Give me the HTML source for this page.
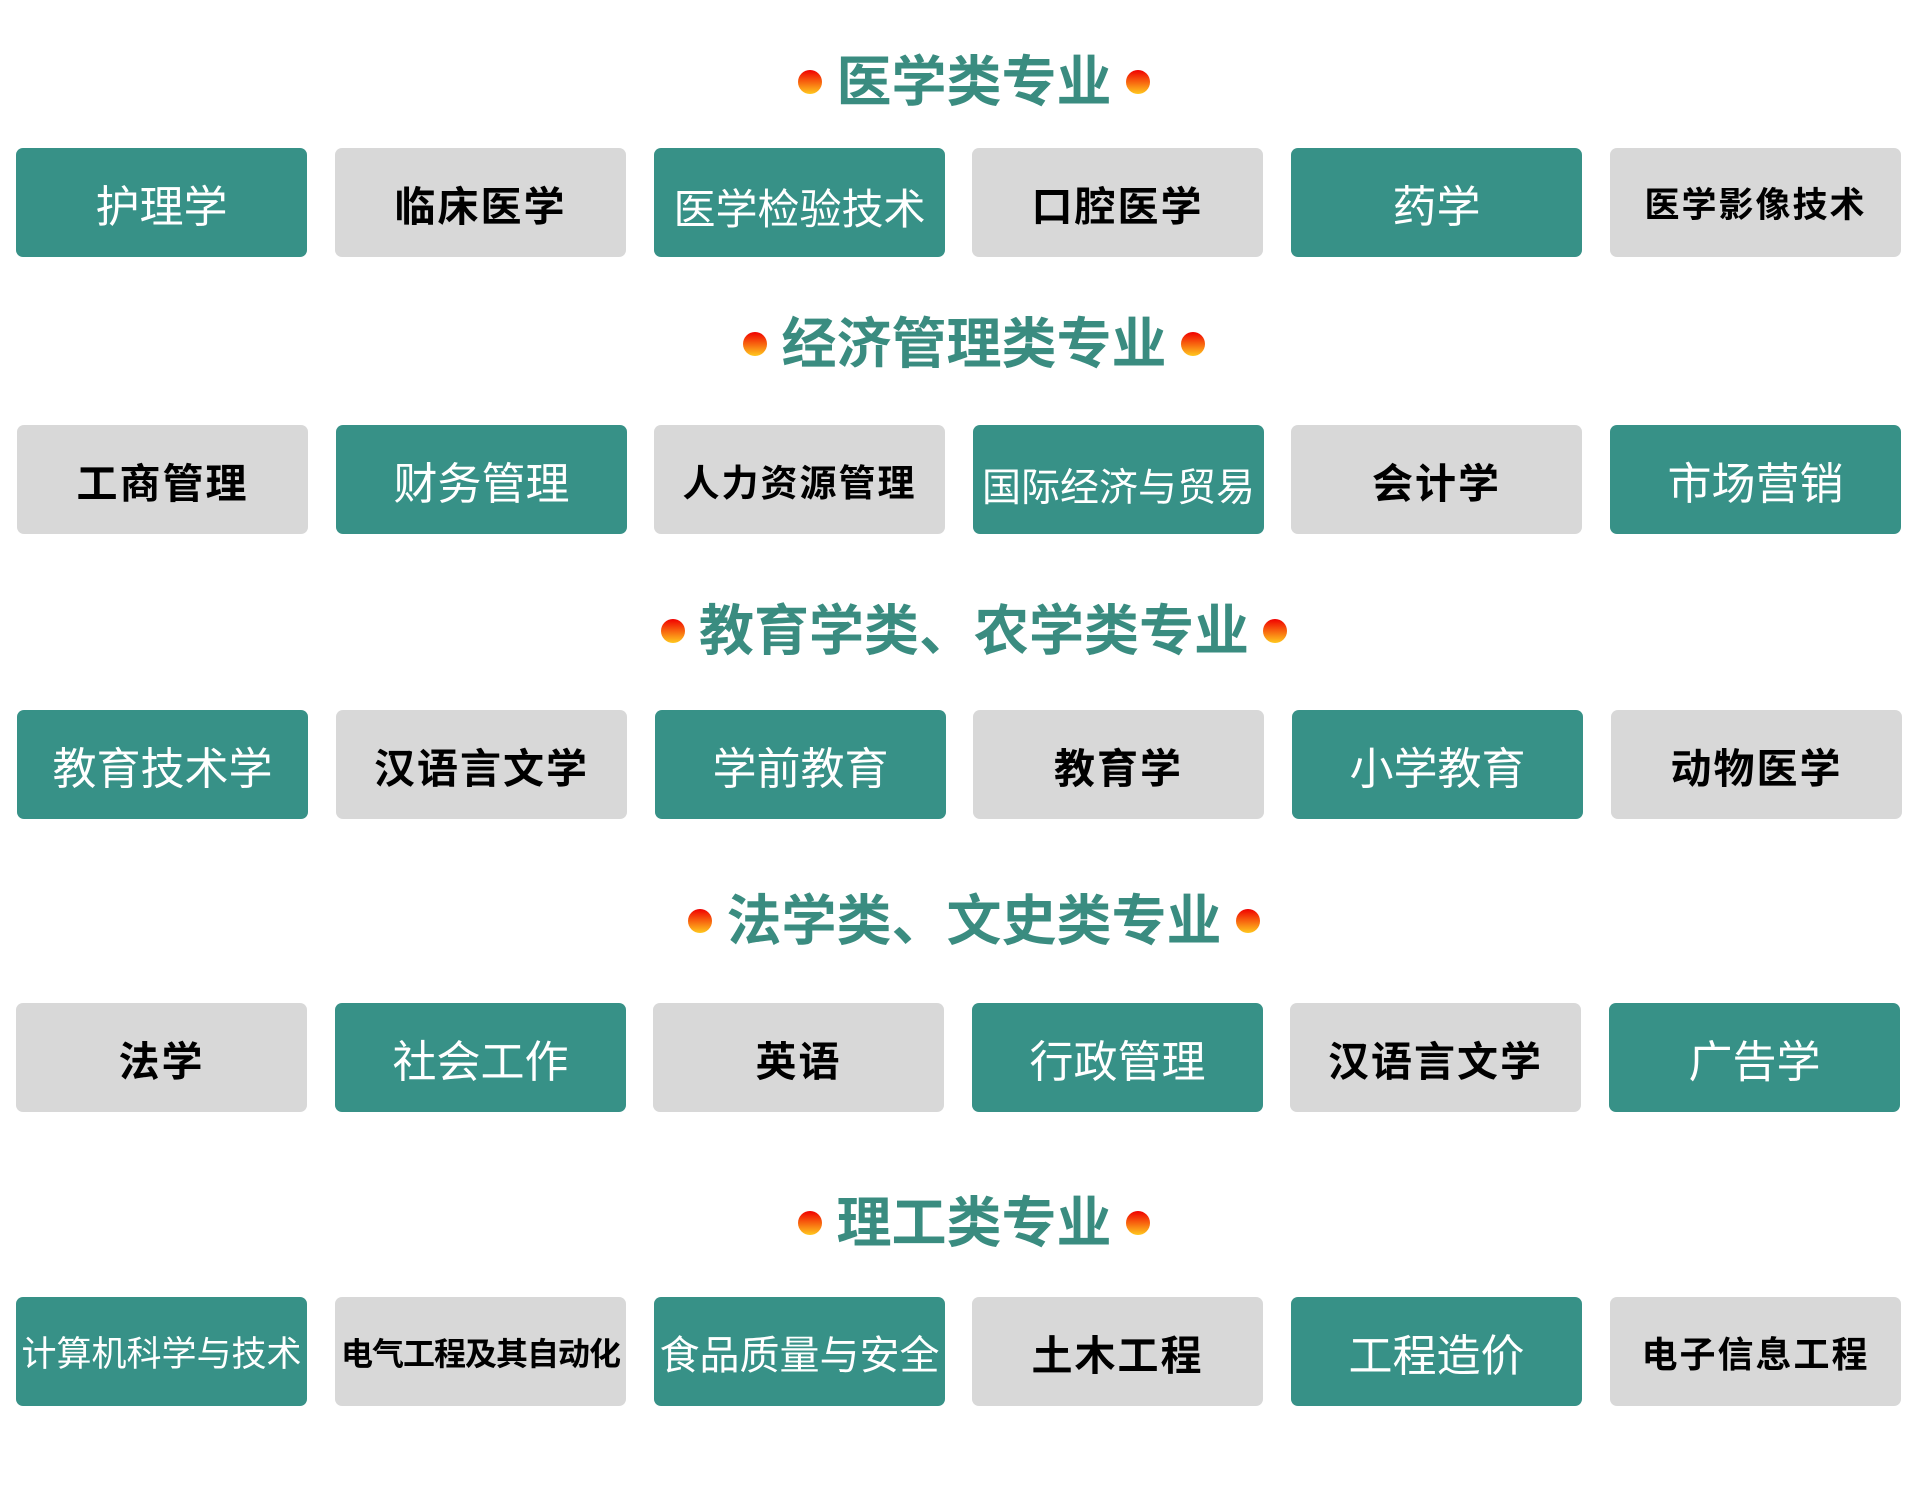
<!DOCTYPE html>
<html><head><meta charset="utf-8"><style>
body{margin:0;width:1920px;height:1500px;background:#fff;position:relative;overflow:hidden;font-family:"Liberation Sans","Noto Sans CJK SC",sans-serif}
.t{position:absolute;left:14px;width:1920px;text-align:center;color:#3a8c80;font-weight:bold;font-size:55px;line-height:70px;white-space:nowrap}
.d{display:inline-block;width:24px;height:24px;border-radius:50%;background:linear-gradient(#f00000,#ffc81e);vertical-align:middle;margin:0 14px;position:relative;top:-4px}
.b{position:absolute;width:291px;height:109px;border-radius:7px;display:flex;align-items:center;justify-content:center;white-space:nowrap;font-size:44px}
.g{background:#379187;color:#fff}
.y{background:#d8d8d8;color:#000;font-weight:bold;font-size:41px;letter-spacing:2px}
</style></head><body>
<div class="t" style="top:47px"><span class="d"></span>医学类专业<span class="d"></span></div>
<div class="t" style="top:309px"><span class="d"></span>经济管理类专业<span class="d"></span></div>
<div class="t" style="top:596px"><span class="d"></span>教育学类、农学类专业<span class="d"></span></div>
<div class="t" style="top:886px"><span class="d"></span>法学类、文史类专业<span class="d"></span></div>
<div class="t" style="top:1188px"><span class="d"></span>理工类专业<span class="d"></span></div>

<div class="b g" style="left:16px;top:148px">护理学</div>
<div class="b y" style="left:335px;top:148px">临床医学</div>
<div class="b g" style="left:654px;top:148px;font-size:42px;padding-top:8px;box-sizing:border-box">医学检验技术</div>
<div class="b y" style="left:972px;top:148px">口腔医学</div>
<div class="b g" style="left:1291px;top:148px">药学</div>
<div class="b y" style="left:1610px;top:148px;font-size:35px">医学影像技术</div>

<div class="b y" style="left:17px;top:425px">工商管理</div>
<div class="b g" style="left:336px;top:425px">财务管理</div>
<div class="b y" style="left:654px;top:425px;font-size:37px">人力资源管理</div>
<div class="b g" style="left:973px;top:425px;font-size:39px;padding-top:10px;box-sizing:border-box">国际经济与贸易</div>
<div class="b y" style="left:1291px;top:425px">会计学</div>
<div class="b g" style="left:1610px;top:425px">市场营销</div>

<div class="b g" style="left:17px;top:710px">教育技术学</div>
<div class="b y" style="left:336px;top:710px">汉语言文学</div>
<div class="b g" style="left:655px;top:710px">学前教育</div>
<div class="b y" style="left:973px;top:710px">教育学</div>
<div class="b g" style="left:1292px;top:710px">小学教育</div>
<div class="b y" style="left:1611px;top:710px">动物医学</div>

<div class="b y" style="left:16px;top:1003px">法学</div>
<div class="b g" style="left:335px;top:1003px">社会工作</div>
<div class="b y" style="left:653px;top:1003px">英语</div>
<div class="b g" style="left:972px;top:1003px">行政管理</div>
<div class="b y" style="left:1290px;top:1003px">汉语言文学</div>
<div class="b g" style="left:1609px;top:1003px">广告学</div>

<div class="b g" style="left:16px;top:1297px;font-size:35px">计算机科学与技术</div>
<div class="b y" style="left:335px;top:1297px;font-size:32px;letter-spacing:-1px">电气工程及其自动化</div>
<div class="b g" style="left:654px;top:1297px;font-size:40px">食品质量与安全</div>
<div class="b y" style="left:972px;top:1297px">土木工程</div>
<div class="b g" style="left:1291px;top:1297px">工程造价</div>
<div class="b y" style="left:1610px;top:1297px;font-size:36px">电子信息工程</div>
</body></html>
